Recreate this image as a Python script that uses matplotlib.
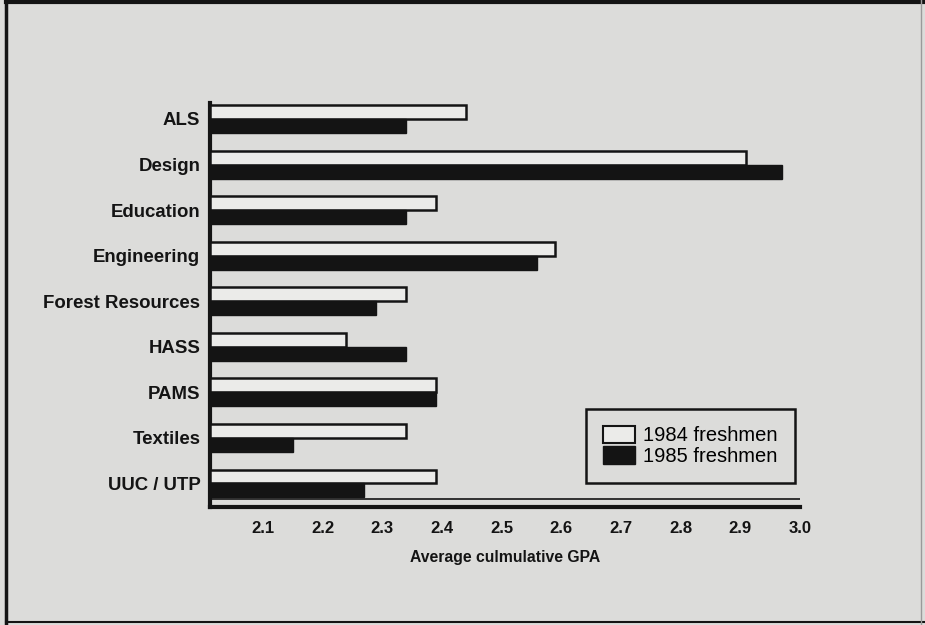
import matplotlib
matplotlib.use("Agg")
import matplotlib.pyplot as plt
import numpy as np
from matplotlib.patches import Patch
from matplotlib.lines import Line2D

categories = ["ALS", "Design", "Education", "Engineering", "Forest Resources",
              "HASS", "PAMS", "Textiles", "UUC / UTP"]
gpa_1984 = [2.44, 2.91, 2.39, 2.59, 2.34, 2.24, 2.39, 2.34, 2.39]
gpa_1985 = [2.34, 2.97, 2.34, 2.56, 2.29, 2.34, 2.39, 2.15, 2.27]
tick_values = [2.1, 2.2, 2.3, 2.4, 2.5, 2.6, 2.7, 2.8, 2.9, 3.0]
tick_labels = ["2.1", "2.2", "2.3", "2.4", "2.5", "2.6", "2.7", "2.8", "2.9", "3.0"]
series_labels = ["1984 freshmen", "1985 freshmen"]
xlabel = "Average culmulative GPA"

bg = "#dcdcda"
light = "#ebebe9"
dark = "#141414"
font = ["Liberation Sans", "DejaVu Sans"]
plt.rcParams["font.family"] = font

fig = plt.figure(figsize=(9.25, 6.25), dpi=100)
fig.patch.set_facecolor(bg)
ax = fig.add_axes([210 / 925, 1 - 507 / 625, 590 / 925, 404 / 625])
ax.set_facecolor(bg)

y = np.arange(len(categories))
h = 0.307
x0 = 2.0116
ax.barh(y - h / 2, np.array(gpa_1984) - x0, left=x0, height=h,
        color=light, edgecolor=dark, linewidth=1.8, zorder=3)
ax.barh(y + h / 2, np.array(gpa_1985) - x0, left=x0, height=h,
        color=dark, edgecolor=dark, linewidth=1.0, zorder=3)

ax.set_xlim(x0, 2.9917)
ax.set_ylim(len(categories) - 1 + 0.516, -0.351)
ax.set_yticks(y)
ax.set_yticklabels(categories, fontsize=13.4, fontweight="bold", color=dark)
ax.set_xticks(tick_values)
ax.set_xticklabels(tick_labels, fontsize=12, fontweight="bold", color=dark)
ax.tick_params(axis="both", length=0)
ax.tick_params(axis="x", pad=10)
ax.tick_params(axis="y", pad=7)
ax.set_xlabel(xlabel, fontsize=11.3, fontweight="bold", color=dark, labelpad=10)

for s in ["top", "right"]:
    ax.spines[s].set_visible(False)
for s in ["left", "bottom"]:
    ax.spines[s].set_linewidth(3)
    ax.spines[s].set_color(dark)
# thin line just above the baseline (as in the printed chart)
ax.axhline(len(categories) - 1 + 0.34, color=dark, linewidth=1.2, zorder=2)

handles = [Patch(facecolor=light, edgecolor=dark, linewidth=1.5),
           Patch(facecolor=dark, edgecolor=dark)]
leg = ax.legend(handles, series_labels, loc="lower right",
                bbox_to_anchor=(795 / 925, 1 - 483 / 625), bbox_transform=fig.transFigure,
                borderaxespad=0, fontsize=14.5, frameon=True, fancybox=False,
                edgecolor=dark, facecolor=bg, framealpha=1, handlelength=1.6,
                handleheight=0.95, handletextpad=0.4, labelspacing=0.05,
                borderpad=0.85)
leg.get_frame().set_linewidth(1.8)

# page frame
fig.add_artist(Line2D([6 / 925, 6 / 925], [0, 1 - 2 / 625], transform=fig.transFigure,
                      color=dark, linewidth=2.5))
fig.add_artist(Line2D([6 / 925, 1], [1 - 2 / 625, 1 - 2 / 625], transform=fig.transFigure,
                      color=dark, linewidth=3))
fig.add_artist(Line2D([6 / 925, 1], [3 / 625, 3 / 625], transform=fig.transFigure,
                      color=dark, linewidth=1.5))
fig.add_artist(Line2D([921 / 925, 921 / 925], [0, 1], transform=fig.transFigure,
                      color="#9a9a9a", linewidth=1.0))

fig.savefig("out.png", dpi=100, facecolor=bg)
